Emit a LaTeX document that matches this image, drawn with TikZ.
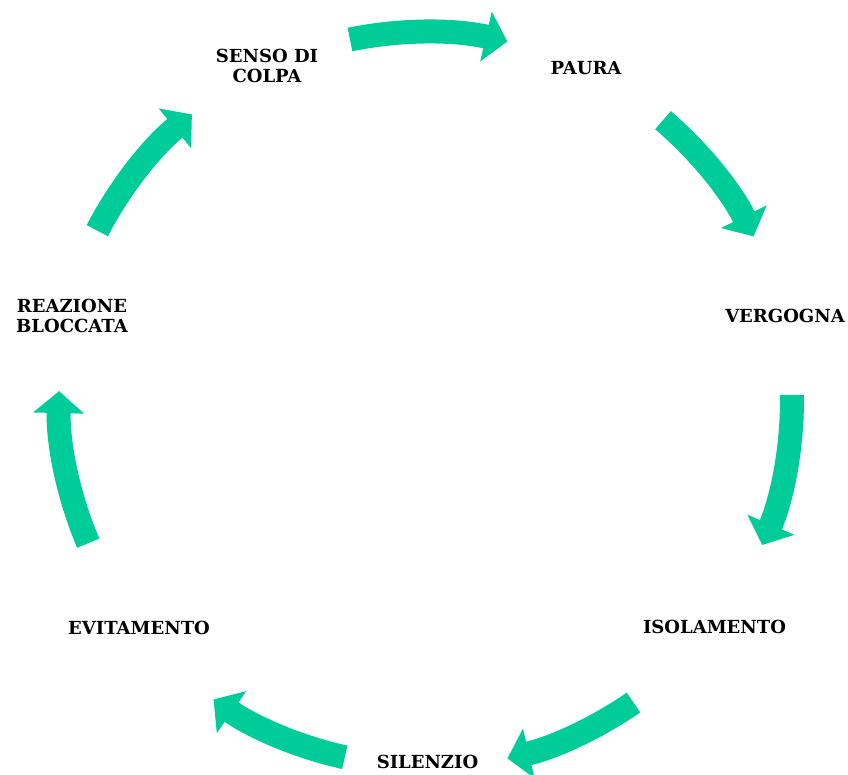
\documentclass[tikz,border=0pt]{standalone}
\usepackage{fontspec}
\newfontfamily\labfont{DejaVu Serif}
\usetikzlibrary{arrows.meta}
\definecolor{cycgreen}{RGB}{0,204,153}
\begin{document}
\begin{tikzpicture}[x=1pt,y=1pt,
  lab/.style={font=\labfont\bfseries\fontsize{18}{20}\selectfont, align=center, inner sep=0pt, text=black},
  cyc/.style={line width=24pt, draw=cycgreen, -{Triangle[width=50pt,length=22pt]}}]
\useasboundingbox (-424,-374) rectangle (424,400);
% labels
\node[lab] (senso) at (-157,334.5) {SENSO DI\\COLPA};
\node[lab] (paura) at (162,332) {PAURA};
\node[lab] (vergogna) at (361,84.5) {VERGOGNA};
\node[lab] (isolamento) at (290.5,-227) {ISOLAMENTO};
\node[lab] (silenzio) at (3.5,-362) {SILENZIO};
\node[lab] (evitamento) at (-285,-228) {EVITAMENTO};
\node[lab] (reazione) at (-352,84) {REAZIONE\\BLOCCATA};
% arrow start points
\coordinate (a1) at (101.6:368);
\coordinate (a2) at (49.5:368);
\coordinate (a3) at (0.8:368);
\coordinate (a4) at (-55.3:368);
\coordinate (a5) at (-102.5:366);
\coordinate (a6) at (203.1:365);
\coordinate (a7) at (152.6:368);
\draw[cyc] (a1) arc[start angle=101.6, end angle=76.9, radius=368];
\draw[cyc] (a2) arc[start angle=49.5, end angle=26.4, radius=368];
\draw[cyc] (a3) arc[start angle=0.8, end angle=-23.2, radius=368];
\draw[cyc] (a4) arc[start angle=-55.3, end angle=-76.9, radius=368];
\draw[cyc] (a5) arc[start angle=-102.5, end angle=-125.1, radius=366];
\draw[cyc] (a6) arc[start angle=203.1, end angle=178.6, radius=365];
\draw[cyc] (a7) arc[start angle=152.6, end angle=129.1, radius=368];
\end{tikzpicture}
\end{document}
